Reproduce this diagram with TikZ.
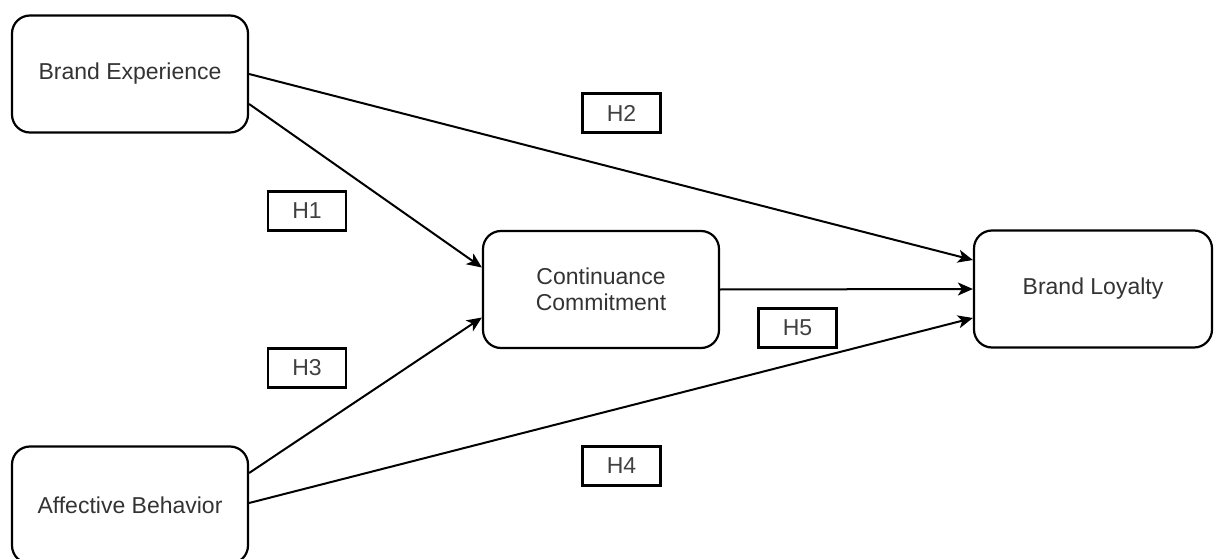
\documentclass[tikz,border=0pt]{standalone}
\usepackage{fontspec}
\setmainfont{Liberation Sans}
\usetikzlibrary{arrows.meta,calc}
\tikzset{
  conbox/.style={draw=black, line width=2.2pt, rounded corners=18pt, fill=white,
    minimum width=236pt, minimum height=117pt, inner sep=0pt, align=center,
    text=black!80, font=\fontsize{23}{26}\selectfont},
  hbox/.style={draw=black, line width=2.2pt, fill=white,
    minimum width=78pt, minimum height=39pt, inner sep=0pt,
    text=black!75, font=\fontsize{23}{26}\selectfont},
  link/.style={draw=black, line width=2pt, -{Stealth[length=15pt,width=13pt,inset=4pt]}}
}
\begin{document}
\begin{tikzpicture}[x=1pt,y=-1pt]
\useasboundingbox (0,0) rectangle (1216,559);
\fill[white] (0,0) rectangle (1216,559);
\node[conbox] (BE) at (130,74) {Brand Experience};
\node[conbox] (AB) at (130,505) {Affective Behavior};
\node[conbox] (CC) at (601,289.5) {Continuance\\Commitment};
\node[conbox, minimum width=238pt] (BL) at (1093,289) {Brand Loyalty};
\node[hbox] (H2) at (621.5,113) {H2};
\node[hbox] (H1) at (307,211) {H1};
\node[hbox] (H3) at (307,368) {H3};
\node[hbox] (H5) at (797.5,328) {H5};
\node[hbox] (H4) at (621.5,466) {H4};
\draw[link] (BE.east) -- ($(BL.west)+(0,-29)$);
\draw[link] ($(BE.east)+(0,30)$) -- ($(CC.west)+(0,-22)$);
\draw[link] (CC.east) -- (BL.west);
\draw[link] ($(AB.east)+(0,-32)$) -- ($(CC.west)+(0,28)$);
\draw[link] ($(AB.east)+(0,-2)$) -- ($(BL.west)+(0,29)$);
\end{tikzpicture}
\end{document}
